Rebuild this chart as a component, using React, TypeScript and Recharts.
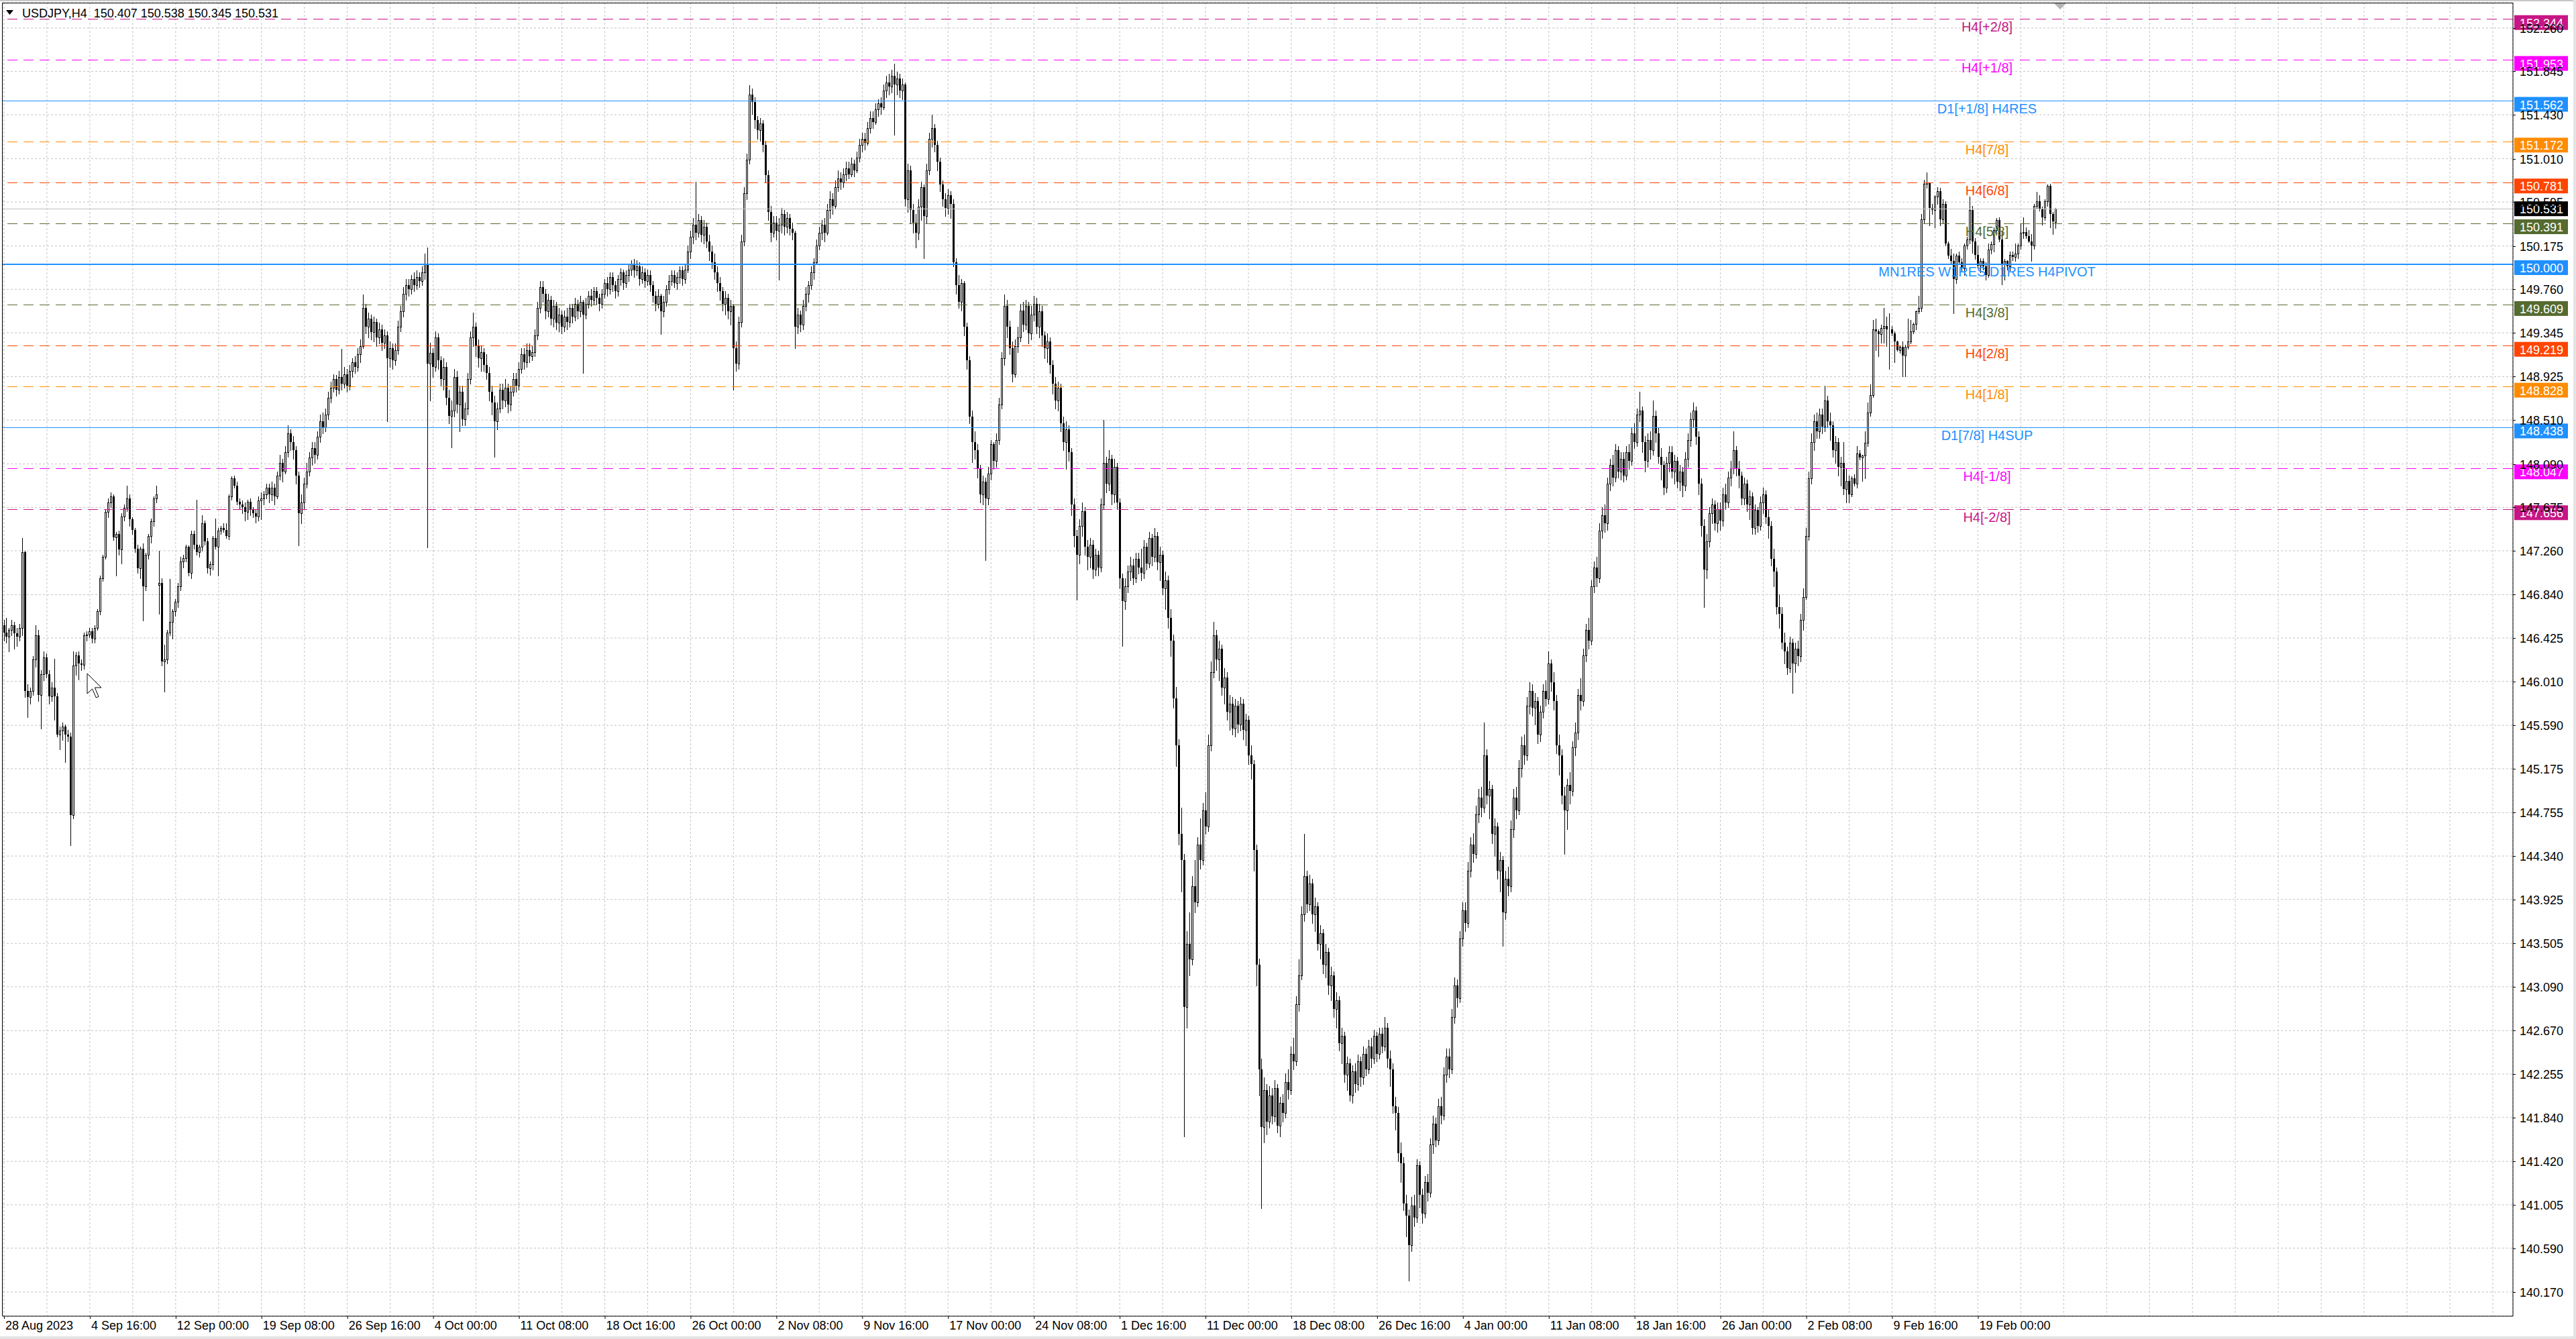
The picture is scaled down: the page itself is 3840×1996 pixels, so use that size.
import React from 'react'
import { ComposedChart, Bar, XAxis, YAxis, CartesianGrid, ReferenceLine } from 'recharts'

// USDJPY H4 candles (28 Aug 2023 .. 23 Feb 2024)
const symbolTitle = 'USDJPY,H4'
const firstOpen = 146.55
// bars whose open does not follow the previous close (weekend gaps)
const gapOpens: [number, number][] = [[58, 146.93], [765, 150.407]]

const closes = [
  146.48, 146.44, 146.50, 146.55, 146.47, 146.44, 146.52, 147.25, 145.92, 145.86, // 0
  145.92, 146.22, 146.45, 145.88, 146.08, 146.24, 146.08, 145.87, 145.95, 145.87,
  145.50, 145.54, 145.58, 145.50, 145.48, 144.73, 146.16, 146.26, 146.18, 146.17,
  146.45, 146.46, 146.49, 146.42, 146.52, 146.68, 147.00, 147.20, 147.63, 147.72,
  147.78, 147.39, 147.42, 147.27, 147.59, 147.67, 147.76, 147.56, 147.46, 147.28,
  147.09, 147.28, 146.92, 147.22, 147.40, 147.54, 147.76, 147.80, 146.95, 146.20, // 50
  146.22, 146.48, 146.58, 146.68, 146.77, 146.92, 147.16, 147.19, 147.30, 147.05,
  147.42, 147.32, 147.25, 147.30, 147.52, 147.35, 147.09, 147.13, 147.38, 147.30,
  147.45, 147.48, 147.46, 147.40, 147.78, 147.95, 147.88, 147.73, 147.70, 147.68,
  147.63, 147.73, 147.65, 147.62, 147.59, 147.74, 147.76, 147.80, 147.86, 147.80,
  147.86, 147.78, 147.98, 148.10, 148.02, 148.20, 148.38, 148.30, 148.22, 147.98, // 100
  147.62, 147.72, 147.90, 148.02, 148.15, 148.24, 148.18, 148.35, 148.50, 148.44,
  148.56, 148.72, 148.82, 148.90, 148.80, 148.92, 148.86, 148.95, 148.84, 148.98,
  149.06, 149.02, 149.14, 149.22, 149.58, 149.40, 149.48, 149.35, 149.45, 149.30,
  149.38, 149.25, 149.32, 149.10, 149.20, 149.08, 149.18, 149.40, 149.55, 149.72,
  149.80, 149.76, 149.86, 149.80, 149.88, 149.84, 149.92, 150.00, 149.05, 149.15, // 150
  149.02, 149.30, 149.08, 148.90, 149.02, 148.72, 148.55, 148.60, 148.92, 148.66,
  148.78, 148.52, 148.62, 148.90, 149.30, 149.40, 149.22, 149.10, 149.16, 149.04,
  148.96, 148.78, 148.68, 148.50, 148.62, 148.80, 148.70, 148.82, 148.66, 148.78,
  148.90, 148.84, 149.00, 149.14, 149.06, 149.18, 149.12, 149.16, 149.32, 149.58,
  149.78, 149.72, 149.55, 149.66, 149.48, 149.60, 149.44, 149.52, 149.40, 149.50, // 200
  149.45, 149.58, 149.50, 149.62, 149.55, 149.64, 149.52, 149.62, 149.70, 149.66,
  149.74, 149.68, 149.62, 149.72, 149.82, 149.76, 149.88, 149.80, 149.74, 149.86,
  149.92, 149.82, 149.90, 149.95, 150.00, 149.94, 149.98, 149.86, 149.92, 149.84,
  149.90, 149.80, 149.70, 149.62, 149.70, 149.55, 149.64, 149.76, 149.84, 149.90,
  149.82, 149.88, 149.94, 149.86, 149.95, 150.12, 150.26, 150.38, 150.30, 150.42, // 250
  150.28, 150.36, 150.22, 150.12, 150.02, 149.92, 149.82, 149.74, 149.62, 149.68,
  149.55, 149.60, 149.20, 149.05, 149.45, 150.22, 150.68, 151.00, 151.62, 151.55,
  151.38, 151.28, 151.35, 151.14, 150.85, 150.50, 150.30, 150.40, 150.32, 150.38,
  150.48, 150.36, 150.44, 150.34, 150.30, 149.40, 149.52, 149.42, 149.60, 149.72,
  149.80, 149.92, 150.02, 150.18, 150.30, 150.38, 150.30, 150.52, 150.62, 150.56, // 300
  150.74, 150.82, 150.78, 150.86, 150.92, 150.86, 150.96, 150.90, 151.02, 151.14,
  151.20, 151.16, 151.30, 151.40, 151.36, 151.48, 151.54, 151.50, 151.66, 151.74,
  151.70, 151.80, 151.72, 151.78, 151.66, 151.72, 150.62, 150.90, 150.52, 150.40,
  150.30, 150.55, 150.74, 150.46, 150.90, 151.20, 151.30, 151.14, 150.98, 150.76,
  150.62, 150.54, 150.66, 150.58, 150.02, 149.80, 149.64, 149.82, 149.40, 149.08, // 350
  148.54, 148.30, 148.22, 148.04, 147.80, 147.92, 147.76, 148.00, 148.28, 148.12,
  148.32, 148.66, 149.10, 149.60, 149.40, 149.20, 148.95, 149.22, 149.30, 149.56,
  149.42, 149.60, 149.34, 149.52, 149.62, 149.40, 149.55, 149.32, 149.20, 149.26,
  149.04, 148.86, 148.70, 148.82, 148.48, 148.30, 148.42, 148.20, 147.70, 147.40,
  147.22, 147.50, 147.64, 147.30, 147.20, 147.32, 147.08, 147.22, 147.10, 147.70, // 400
  148.10, 147.90, 148.14, 147.80, 148.06, 147.72, 147.00, 146.78, 146.92, 147.06,
  147.12, 147.00, 147.18, 147.10, 147.05, 147.30, 147.14, 147.38, 147.20, 147.40,
  147.15, 147.22, 146.90, 146.98, 146.62, 146.40, 145.85, 145.40, 144.55, 144.30,
  142.90, 143.50, 143.35, 144.05, 143.90, 144.45, 144.30, 144.78, 144.62, 145.40,
  146.10, 146.45, 146.22, 146.32, 145.95, 146.05, 145.72, 145.80, 145.56, 145.78, // 450
  145.60, 145.80, 145.55, 145.64, 145.30, 145.22, 144.40, 143.30, 142.30, 141.75,
  142.10, 141.80, 142.05, 141.85, 142.12, 141.76, 141.98, 141.88, 142.18, 142.10,
  142.45, 142.38, 142.92, 143.20, 143.78, 144.15, 143.88, 144.08, 143.78, 143.86,
  143.50, 143.60, 143.30, 143.42, 143.10, 143.20, 142.88, 142.96, 142.55, 142.62,
  142.25, 142.36, 142.05, 142.28, 142.16, 142.38, 142.22, 142.45, 142.30, 142.52, // 500
  142.40, 142.62, 142.45, 142.64, 142.52, 142.70, 142.40, 142.30, 141.95, 141.88,
  141.50, 141.40, 141.02, 140.90, 140.62, 141.00, 140.88, 141.38, 141.10, 140.92,
  141.22, 141.12, 141.58, 141.78, 141.62, 141.95, 141.86, 142.25, 142.42, 142.30,
  142.80, 143.10, 142.98, 143.55, 143.82, 143.70, 144.20, 144.45, 144.36, 144.74,
  144.90, 144.80, 145.30, 144.92, 144.98, 144.55, 144.62, 144.20, 144.30, 143.80, // 550
  144.12, 144.05, 144.60, 144.90, 144.78, 145.18, 145.40, 145.30, 145.78, 145.92,
  145.76, 145.82, 145.50, 145.72, 145.92, 145.84, 146.18, 146.00, 145.82, 145.40,
  145.30, 144.92, 144.78, 145.02, 144.96, 145.38, 145.52, 145.88, 145.82, 146.26,
  146.50, 146.40, 146.92, 147.10, 147.00, 147.45, 147.60, 147.52, 147.90, 148.08,
  147.96, 148.22, 148.02, 148.14, 147.98, 148.20, 148.12, 148.38, 148.30, 148.56, // 600
  148.60, 148.30, 148.12, 148.32, 148.22, 148.55, 148.38, 148.16, 148.08, 147.86,
  148.10, 148.20, 148.02, 148.12, 147.92, 148.02, 147.88, 148.14, 148.32, 148.52,
  148.60, 148.35, 147.90, 147.50, 147.08, 147.35, 147.62, 147.70, 147.52, 147.66,
  147.55, 147.80, 147.72, 147.96, 148.05, 148.22, 148.04, 147.98, 147.76, 147.90,
  147.70, 147.78, 147.48, 147.65, 147.50, 147.72, 147.80, 147.58, 147.50, 147.18, // 650
  147.06, 146.72, 146.66, 146.38, 146.30, 146.14, 146.38, 146.18, 146.32, 146.25,
  146.60, 146.82, 147.40, 147.95, 148.30, 148.50, 148.40, 148.56, 148.45, 148.70,
  148.50, 148.46, 148.22, 148.30, 148.06, 148.10, 147.85, 147.93, 147.80, 147.95,
  147.90, 148.19, 148.15, 148.17, 148.29, 148.58, 148.75, 149.38, 149.36, 149.33,
  149.39, 149.41, 149.38, 149.38, 149.34, 149.26, 149.18, 149.21, 149.13, 149.21, // 700
  149.26, 149.36, 149.43, 149.55, 149.58, 150.43, 150.77, 150.78, 150.54, 150.52,
  150.65, 150.70, 150.43, 150.58, 150.20, 150.08, 150.03, 149.86, 150.08, 150.02,
  149.96, 150.18, 150.24, 150.52, 150.22, 150.09, 149.99, 150.03, 149.98, 149.90,
  150.14, 150.19, 150.33, 150.42, 150.24, 150.00, 150.03, 149.98, 150.09, 150.07,
  150.10, 150.18, 150.30, 150.31, 150.27, 150.22, 150.18, 150.56, 150.60, 150.53, // 750
  150.45, 150.60, 150.75, 150.48, 150.41, 150.531,
]

const highs = [
  146.60, 146.62, 146.52, 146.60, 146.58, 146.52, 146.56, 147.38, 147.26, 145.98, // 0
  145.95, 146.25, 146.55, 146.50, 146.12, 146.30, 146.28, 146.12, 146.00, 146.23,
  145.90, 145.58, 145.62, 145.60, 145.55, 145.52, 146.30, 146.29, 146.30, 146.22,
  146.48, 146.49, 146.52, 146.52, 146.55, 146.70, 147.02, 147.22, 147.65, 147.76,
  147.82, 147.80, 147.44, 147.45, 147.62, 147.70, 147.88, 147.80, 147.58, 147.48,
  147.32, 147.30, 147.33, 147.24, 147.42, 147.57, 147.78, 147.88, 147.26, 147.00, // 50
  146.36, 146.50, 146.99, 146.70, 146.80, 146.95, 147.20, 147.22, 147.32, 147.31,
  147.45, 147.45, 147.75, 147.32, 147.60, 147.55, 147.38, 147.16, 147.40, 147.57,
  147.48, 147.50, 147.52, 147.52, 147.80, 147.97, 147.98, 147.92, 147.76, 147.74,
  147.72, 147.75, 147.76, 147.68, 147.66, 147.78, 147.82, 147.83, 147.90, 147.90,
  147.92, 147.90, 148.02, 148.18, 148.14, 148.26, 148.46, 148.42, 148.36, 148.26, // 100
  148.02, 147.80, 147.96, 148.10, 148.20, 148.30, 148.30, 148.40, 148.56, 148.58,
  148.62, 148.78, 148.88, 148.95, 148.94, 148.98, 149.19, 149.02, 149.00, 149.04,
  149.10, 149.12, 149.20, 149.28, 149.71, 149.62, 149.54, 149.52, 149.50, 149.48,
  149.44, 149.42, 149.38, 149.36, 149.26, 149.24, 149.24, 149.46, 149.60, 149.78,
  149.86, 149.86, 149.90, 149.92, 149.94, 149.92, 149.98, 150.10, 150.16, 149.25, // 150
  149.20, 149.36, 149.34, 149.12, 149.10, 149.06, 148.80, 148.70, 149.00, 148.98,
  148.84, 148.84, 148.68, 148.96, 149.36, 149.54, 149.44, 149.28, 149.22, 149.20,
  149.14, 149.02, 148.84, 148.74, 148.68, 148.86, 148.86, 148.90, 148.86, 148.84,
  148.96, 148.96, 149.06, 149.20, 149.20, 149.24, 149.24, 149.22, 149.38, 149.64,
  149.84, 149.84, 149.76, 149.72, 149.70, 149.66, 149.64, 149.58, 149.56, 149.56, // 200
  149.58, 149.62, 149.62, 149.68, 149.66, 149.70, 149.66, 149.68, 149.74, 149.76,
  149.78, 149.78, 149.72, 149.76, 149.86, 149.88, 149.92, 149.92, 149.84, 149.90,
  149.96, 149.95, 149.94, 150.00, 150.04, 150.05, 150.04, 150.02, 149.98, 149.96,
  149.95, 149.94, 149.84, 149.74, 149.76, 149.72, 149.70, 149.80, 149.90, 149.94,
  149.94, 149.92, 149.98, 149.98, 150.00, 150.18, 150.32, 150.44, 150.79, 150.48, // 250
  150.46, 150.42, 150.40, 150.28, 150.18, 150.10, 149.98, 149.88, 149.78, 149.74,
  149.72, 149.66, 149.62, 149.26, 149.50, 150.28, 150.74, 151.06, 151.71, 151.68,
  151.60, 151.42, 151.40, 151.38, 151.18, 150.90, 150.56, 150.46, 150.46, 150.44,
  150.54, 150.52, 150.50, 150.48, 150.40, 150.32, 149.58, 149.56, 149.66, 149.78,
  149.84, 149.98, 150.06, 150.24, 150.36, 150.42, 150.44, 150.58, 150.70, 150.68, // 300
  150.80, 150.90, 150.88, 150.92, 150.98, 150.98, 151.02, 151.00, 151.08, 151.20,
  151.26, 151.26, 151.36, 151.46, 151.46, 151.54, 151.58, 151.60, 151.72, 151.80,
  151.82, 151.86, 151.92, 151.84, 151.82, 151.78, 151.74, 150.96, 150.94, 150.58,
  150.48, 150.62, 150.79, 150.76, 150.96, 151.26, 151.43, 151.34, 151.18, 151.02,
  150.80, 150.68, 150.72, 150.70, 150.62, 150.06, 149.90, 149.86, 149.84, 149.44, // 350
  149.12, 148.60, 148.40, 148.28, 148.08, 147.98, 147.96, 148.06, 148.32, 148.30,
  148.38, 148.72, 149.16, 149.71, 149.66, 149.46, 149.26, 149.28, 149.40, 149.62,
  149.64, 149.66, 149.64, 149.60, 149.70, 149.68, 149.62, 149.60, 149.36, 149.34,
  149.30, 149.08, 148.92, 148.88, 148.86, 148.54, 148.50, 148.46, 148.24, 147.76,
  147.46, 147.56, 147.72, 147.68, 147.36, 147.38, 147.36, 147.28, 147.26, 147.76, // 400
  148.51, 148.16, 148.22, 148.18, 148.14, 148.10, 147.76, 147.04, 147.00, 147.12,
  147.20, 147.18, 147.24, 147.24, 147.28, 147.36, 147.34, 147.44, 147.42, 147.48,
  147.44, 147.30, 147.26, 147.06, 147.02, 146.70, 146.46, 145.96, 145.46, 144.80,
  144.36, 143.62, 143.80, 144.15, 144.30, 144.52, 144.70, 144.85, 144.95, 145.50,
  146.20, 146.58, 146.50, 146.40, 146.36, 146.14, 146.10, 145.88, 145.86, 145.84, // 450
  145.82, 145.86, 145.84, 145.70, 145.68, 145.40, 145.26, 144.45, 143.36, 142.40,
  142.22, 142.16, 142.14, 142.12, 142.20, 142.16, 142.04, 142.06, 142.26, 142.30,
  142.52, 142.60, 143.00, 143.35, 143.86, 144.55, 144.20, 144.16, 144.12, 143.94,
  143.90, 143.68, 143.64, 143.50, 143.46, 143.28, 143.24, 143.04, 143.00, 142.70,
  142.66, 142.42, 142.40, 142.34, 142.36, 142.44, 142.42, 142.52, 142.50, 142.58, // 500
  142.60, 142.68, 142.66, 142.70, 142.70, 142.80, 142.74, 142.48, 142.36, 142.04,
  141.94, 141.60, 141.46, 141.10, 140.96, 141.08, 141.10, 141.44, 141.42, 141.16,
  141.28, 141.30, 141.64, 141.86, 141.84, 142.02, 142.04, 142.32, 142.50, 142.50,
  142.88, 143.18, 143.16, 143.62, 143.90, 143.90, 144.28, 144.52, 144.56, 144.82,
  144.98, 145.00, 145.62, 145.36, 145.06, 145.02, 144.70, 144.66, 144.38, 144.34, // 550
  144.20, 144.24, 144.68, 144.98, 145.00, 145.26, 145.48, 145.50, 145.86, 146.00,
  145.98, 145.90, 145.86, 145.78, 145.98, 146.02, 146.30, 146.22, 146.10, 145.88,
  145.50, 145.36, 145.00, 145.08, 145.14, 145.44, 145.62, 145.94, 146.04, 146.32,
  146.56, 146.62, 146.98, 147.16, 147.20, 147.52, 147.68, 147.70, 147.96, 148.14,
  148.18, 148.28, 148.26, 148.20, 148.20, 148.26, 148.28, 148.44, 148.48, 148.62, // 600
  148.78, 148.64, 148.36, 148.38, 148.40, 148.70, 148.60, 148.44, 148.24, 148.12,
  148.16, 148.26, 148.26, 148.18, 148.16, 148.08, 148.06, 148.20, 148.38, 148.58,
  148.68, 148.64, 148.40, 147.95, 147.56, 147.42, 147.68, 147.76, 147.74, 147.72,
  147.72, 147.86, 147.90, 148.02, 148.12, 148.40, 148.26, 148.12, 148.02, 147.96,
  147.94, 147.84, 147.82, 147.70, 147.68, 147.78, 147.86, 147.84, 147.66, 147.54, // 650
  147.28, 147.10, 146.84, 146.72, 146.48, 146.34, 146.44, 146.42, 146.38, 146.40,
  146.66, 146.90, 147.48, 148.02, 148.38, 148.56, 148.58, 148.62, 148.62, 148.84,
  148.74, 148.58, 148.50, 148.36, 148.34, 148.16, 148.30, 148.05, 147.98, 147.97,
  147.99, 148.26, 148.22, 148.18, 148.40, 148.68, 148.85, 149.47, 149.48, 149.38,
  149.42, 149.58, 149.50, 149.53, 149.41, 149.36, 149.27, 149.22, 149.26, 149.23, // 700
  149.48, 149.47, 149.44, 149.56, 149.70, 150.48, 150.81, 150.88, 150.78, 150.58,
  150.66, 150.74, 150.73, 150.62, 150.60, 150.22, 150.15, 150.10, 150.10, 150.12,
  150.06, 150.20, 150.26, 150.65, 150.56, 150.25, 150.18, 150.06, 150.06, 150.02,
  150.20, 150.22, 150.35, 150.44, 150.45, 150.32, 150.05, 150.04, 150.12, 150.12,
  150.20, 150.20, 150.39, 150.45, 150.35, 150.33, 150.29, 150.58, 150.69, 150.66, // 750
  150.55, 150.62, 150.76, 150.77, 150.50, 150.538,
]

const lows = [
  146.40, 146.38, 146.30, 146.45, 146.32, 146.35, 146.40, 146.45, 145.86, 145.67, // 0
  145.80, 145.88, 146.15, 145.82, 145.56, 146.02, 146.05, 145.80, 145.82, 145.64,
  145.48, 145.36, 145.45, 145.24, 145.44, 144.44, 144.70, 146.07, 146.03, 146.12,
  146.13, 146.40, 146.43, 146.38, 146.38, 146.50, 146.65, 146.97, 147.18, 147.58,
  147.68, 147.36, 147.02, 147.22, 147.14, 147.55, 147.64, 147.50, 147.42, 147.25,
  147.05, 147.00, 146.59, 146.88, 147.18, 147.34, 147.50, 147.72, 146.66, 146.16, // 50
  145.91, 146.18, 146.45, 146.42, 146.64, 146.72, 146.88, 147.10, 147.16, 147.02,
  147.00, 147.28, 147.22, 147.20, 147.26, 147.32, 147.05, 147.03, 147.08, 147.28,
  147.02, 147.42, 147.44, 147.38, 147.37, 147.75, 147.86, 147.70, 147.66, 147.62,
  147.55, 147.56, 147.60, 147.58, 147.53, 147.55, 147.56, 147.70, 147.76, 147.72,
  147.74, 147.70, 147.76, 147.94, 147.92, 148.00, 148.16, 148.22, 148.14, 147.90, // 100
  147.31, 147.52, 147.66, 147.86, 147.98, 148.08, 148.10, 148.14, 148.30, 148.38,
  148.40, 148.52, 148.68, 148.78, 148.74, 148.76, 148.80, 148.82, 148.78, 148.80,
  148.92, 148.96, 148.98, 149.06, 149.20, 149.34, 149.30, 149.28, 149.26, 149.22,
  149.24, 149.18, 149.20, 148.50, 149.02, 149.00, 149.04, 149.14, 149.36, 149.50,
  149.66, 149.70, 149.72, 149.74, 149.76, 149.78, 149.80, 149.86, 147.29, 148.70, // 150
  148.92, 148.98, 149.00, 148.84, 148.80, 148.66, 148.48, 148.25, 148.54, 148.58,
  148.40, 148.46, 148.46, 148.56, 148.86, 149.22, 149.12, 149.02, 148.98, 148.98,
  148.90, 148.70, 148.56, 148.16, 148.42, 148.58, 148.62, 148.64, 148.58, 148.60,
  148.74, 148.78, 148.80, 148.96, 149.00, 149.02, 149.06, 149.08, 149.12, 149.28,
  149.54, 149.64, 149.48, 149.50, 149.42, 149.40, 149.38, 149.36, 149.34, 149.36, // 200
  149.38, 149.40, 149.44, 149.46, 149.48, 149.50, 148.96, 149.48, 149.58, 149.60,
  149.62, 149.62, 149.56, 149.58, 149.68, 149.70, 149.72, 149.74, 149.68, 149.70,
  149.80, 149.76, 149.78, 149.84, 149.90, 149.88, 149.90, 149.80, 149.82, 149.78,
  149.80, 149.74, 149.64, 149.56, 149.58, 149.33, 149.50, 149.60, 149.72, 149.80,
  149.78, 149.76, 149.82, 149.80, 149.82, 149.92, 150.06, 150.20, 150.24, 150.26, // 250
  150.22, 150.20, 150.16, 150.04, 149.96, 149.86, 149.74, 149.66, 149.56, 149.52,
  149.48, 149.42, 148.80, 148.98, 149.00, 149.40, 150.18, 150.62, 150.96, 151.44,
  151.30, 151.20, 151.18, 151.08, 150.78, 150.42, 150.22, 150.26, 150.24, 149.85,
  150.30, 150.28, 150.30, 150.28, 150.24, 149.20, 149.34, 149.36, 149.38, 149.56,
  149.64, 149.76, 149.86, 150.00, 150.14, 150.24, 150.22, 150.28, 150.44, 150.48, // 300
  150.54, 150.70, 150.72, 150.74, 150.80, 150.82, 150.84, 150.84, 150.88, 150.98,
  151.08, 151.10, 151.14, 151.26, 151.30, 151.34, 151.42, 151.44, 151.48, 151.60,
  151.62, 151.64, 151.24, 151.62, 151.60, 151.58, 150.56, 150.50, 150.40, 150.30,
  150.16, 150.24, 150.42, 150.06, 150.40, 150.86, 151.12, 151.08, 150.90, 150.70,
  150.56, 150.46, 150.48, 150.44, 149.98, 149.72, 149.58, 149.56, 149.32, 149.00, // 350
  148.48, 148.11, 148.14, 147.96, 147.72, 147.70, 147.17, 147.70, 147.94, 148.04,
  148.06, 148.28, 148.62, 149.04, 149.30, 149.14, 148.88, 148.92, 149.16, 149.26,
  149.36, 149.38, 149.24, 149.28, 149.46, 149.34, 149.30, 149.22, 149.10, 149.06,
  148.96, 148.76, 148.62, 148.60, 148.40, 148.22, 148.04, 148.12, 147.60, 147.30,
  146.79, 147.14, 147.40, 147.22, 147.08, 147.10, 147.00, 147.02, 147.02, 147.06, // 400
  147.66, 147.82, 147.84, 147.70, 147.72, 147.66, 146.90, 146.35, 146.70, 146.86,
  146.98, 146.94, 146.96, 147.04, 146.98, 147.00, 147.08, 147.10, 147.12, 147.16,
  147.08, 146.98, 146.84, 146.70, 146.52, 146.25, 145.76, 145.20, 144.45, 144.00,
  141.66, 142.70, 143.20, 143.30, 143.80, 143.86, 144.22, 144.26, 144.55, 144.58,
  145.35, 146.05, 146.12, 146.02, 145.88, 145.80, 145.64, 145.55, 145.50, 145.48, // 450
  145.52, 145.54, 145.46, 145.40, 145.22, 145.08, 144.20, 143.10, 142.05, 140.97,
  141.60, 141.68, 141.74, 141.78, 141.80, 141.70, 141.66, 141.80, 141.84, 142.02,
  142.06, 142.30, 142.34, 142.86, 143.16, 143.72, 143.80, 143.82, 143.70, 143.62,
  143.44, 143.36, 143.22, 143.18, 143.02, 142.96, 142.80, 142.70, 142.48, 142.36,
  142.18, 142.10, 142.00, 141.98, 142.08, 142.10, 142.14, 142.16, 142.24, 142.26, // 500
  142.32, 142.36, 142.38, 142.40, 142.46, 142.48, 142.32, 142.14, 141.88, 141.72,
  141.42, 141.22, 140.95, 140.70, 140.28, 140.56, 140.80, 140.84, 140.98, 140.83,
  140.88, 141.04, 141.08, 141.50, 141.56, 141.58, 141.78, 141.82, 142.18, 142.22,
  142.26, 142.74, 142.90, 142.94, 143.48, 143.62, 143.66, 144.14, 144.28, 144.32,
  144.66, 144.72, 144.76, 144.84, 144.70, 144.46, 144.34, 144.12, 144.00, 143.48, // 550
  143.74, 143.96, 144.00, 144.52, 144.70, 144.74, 145.10, 145.22, 145.26, 145.70,
  145.68, 145.60, 145.42, 145.44, 145.66, 145.78, 145.80, 145.92, 145.74, 145.32,
  145.12, 144.84, 144.36, 144.60, 144.84, 144.92, 145.30, 145.46, 145.74, 145.78,
  146.20, 146.32, 146.36, 146.86, 146.92, 146.96, 147.38, 147.44, 147.46, 147.84,
  147.88, 147.92, 147.96, 147.94, 147.92, 147.94, 148.04, 148.08, 148.24, 148.26, // 600
  148.50, 148.20, 148.02, 148.06, 148.14, 148.18, 148.30, 148.10, 147.94, 147.80,
  147.82, 148.02, 147.96, 147.90, 147.86, 147.84, 147.78, 147.84, 148.06, 148.26,
  148.44, 148.28, 147.80, 147.40, 146.72, 147.00, 147.30, 147.52, 147.46, 147.44,
  147.46, 147.50, 147.66, 147.68, 147.88, 148.00, 147.98, 147.86, 147.70, 147.70,
  147.64, 147.56, 147.42, 147.42, 147.44, 147.46, 147.62, 147.52, 147.38, 147.12, // 650
  146.92, 146.66, 146.52, 146.32, 146.18, 146.08, 146.10, 145.90, 146.10, 146.16,
  146.20, 146.50, 146.80, 147.36, 147.90, 148.22, 148.34, 148.34, 148.38, 148.40,
  148.44, 148.32, 148.16, 148.10, 147.98, 147.88, 147.80, 147.72, 147.72, 147.78,
  147.88, 147.86, 148.13, 147.93, 147.95, 148.26, 148.55, 148.73, 149.18, 149.12,
  149.25, 149.25, 149.22, 149.00, 149.32, 149.06, 149.17, 149.15, 148.93, 148.93, // 700
  149.19, 149.24, 149.34, 149.38, 149.53, 149.55, 150.40, 150.73, 150.37, 150.48,
  150.35, 150.58, 150.37, 150.40, 150.18, 150.06, 150.00, 149.53, 149.82, 150.00,
  149.93, 149.90, 150.15, 150.20, 150.11, 150.05, 149.97, 149.92, 149.95, 149.85,
  149.88, 150.10, 150.12, 150.28, 150.22, 149.81, 149.85, 149.95, 149.94, 150.04,
  150.03, 150.06, 150.15, 150.25, 150.25, 150.21, 150.03, 150.15, 150.54, 150.51, // 750
  150.38, 150.42, 150.56, 150.35, 150.29, 150.345,
]

// one time label every 32 bars
const timeLabels = [
  '28 Aug 2023', '4 Sep 16:00', '12 Sep 00:00', '19 Sep 08:00', '26 Sep 16:00', '4 Oct 00:00',
  '11 Oct 08:00', '18 Oct 16:00', '26 Oct 00:00', '2 Nov 08:00', '9 Nov 16:00', '17 Nov 00:00',
  '24 Nov 08:00', '1 Dec 16:00', '11 Dec 00:00', '18 Dec 08:00', '26 Dec 16:00', '4 Jan 00:00',
  '11 Jan 08:00', '18 Jan 16:00', '26 Jan 00:00', '2 Feb 08:00', '9 Feb 16:00', '19 Feb 00:00',
]

const priceTicks = [
  152.26, 151.845, 151.43, 151.01, 150.595, 150.175, 149.76, 149.345, 148.925, 148.51,
  148.09, 147.675, 147.26, 146.84, 146.425, 146.01, 145.59, 145.175, 144.755, 144.34,
  143.925, 143.505, 143.09, 142.67, 142.255, 141.84, 141.42, 141.005, 140.59, 140.17,
]

// murrey math levels drawn by the indicator
const levelPrices = [
  152.344, 151.953, 151.562, 151.172, 150.781, 150.391, 150.0,
  149.609, 149.219, 148.828, 148.438, 148.047, 147.656,
]
const levelNames = [
  'H4[+2/8]', 'H4[+1/8]', 'D1[+1/8] H4RES', 'H4[7/8]', 'H4[6/8]', 'H4[5/8]', 'MN1RES W1RES D1RES H4PIVOT',
  'H4[3/8]', 'H4[2/8]', 'H4[1/8]', 'D1[7/8] H4SUP', 'H4[-1/8]', 'H4[-2/8]',
]

const levelStyles = [
  { color: '#C71585', dash: true, width: 1 },
  { color: '#FF00FF', dash: true, width: 1 },
  { color: '#1E90FF', dash: false, width: 1 },
  { color: '#FF8C00', dash: true, width: 1 },
  { color: '#FF4500', dash: true, width: 1 },
  { color: '#556B2F', dash: true, width: 1 },
  { color: '#1E90FF', dash: false, width: 2 },
  { color: '#556B2F', dash: true, width: 1 },
  { color: '#FF4500', dash: true, width: 1 },
  { color: '#FF8C00', dash: true, width: 1 },
  { color: '#1E90FF', dash: false, width: 1 },
  { color: '#FF00FF', dash: true, width: 1 },
  { color: '#C71585', dash: true, width: 1 },
]

const FONT = '"Liberation Sans", Arial, sans-serif'
const SLOTS = 936 // bars that fit the window, incl. the empty chart shift on the right
const BARS_PER_LABEL = 32
const BARS_PER_GRID = 16
const Y_DOMAIN: [number, number] = [139.939, 152.502]
const LEVEL_TEXT_X = 2962

const opens = closes.map((_, i) => {
  const gap = gapOpens.find(([k]) => k === i)
  if (gap) return gap[1]
  return i === 0 ? firstOpen : closes[i - 1]
})
const last = closes.length - 1
const currentPrice = closes[last]

const data = Array.from({ length: SLOTS }, (_, i) =>
  i < closes.length
    ? { i, o: opens[i], h: highs[i], l: lows[i], c: closes[i], range: [lows[i], highs[i]] }
    : { i, range: null },
)
const gridTicks = Array.from({ length: Math.ceil(SLOTS / BARS_PER_GRID) }, (_, k) => k * BARS_PER_GRID)

function Candle(props: any) {
  const { x, y, width, height, payload } = props
  if (!payload || payload.h == null || x == null) return null
  const top = Math.min(y, y + height)
  const span = Math.abs(height)
  const range = payload.h - payload.l
  const toY = (v: number) => (range > 0 ? top + ((payload.h - v) / range) * span : top)
  const cx = Math.round(x + width / 2)
  const oy = toY(payload.o)
  const cy = toY(payload.c)
  const bodyTop = Math.round(Math.min(oy, cy))
  const bodyBottom = Math.round(Math.max(oy, cy))
  const bull = payload.c >= payload.o
  return (
    <g shapeRendering="crispEdges">
      <line x1={cx + 0.5} x2={cx + 0.5} y1={Math.round(top)} y2={Math.round(top + span) + 1} stroke="#000" />
      {bull ? (
        <rect x={cx - 0.5} y={bodyTop + 0.5} width={2} height={bodyBottom - bodyTop} fill="#fff" stroke="#000" />
      ) : (
        <rect x={cx - 1} y={bodyTop} width={3} height={Math.max(bodyBottom - bodyTop, 1)} fill="#000" />
      )}
    </g>
  )
}

function TimeTick({ x, y, payload }: any) {
  const idx = Number(payload.value)
  const label = idx % BARS_PER_LABEL === 0 ? timeLabels[idx / BARS_PER_LABEL] : undefined
  if (!label) return <g />
  return (
    <g>
      <line x1={x + 0.5} x2={x + 0.5} y1={y} y2={y + 4} stroke="#000" />
      <text x={x + 2} y={y + 19.5} fontSize={18} fill="#000" fontFamily={FONT}>
        {label}
      </text>
    </g>
  )
}

function PriceTick({ x, y, payload }: any) {
  return (
    <g>
      <line x1={x} x2={x + 4} y1={Math.round(y) + 0.5} y2={Math.round(y) + 0.5} stroke="#000" />
      <text x={x + 10} y={y + 7} fontSize={18} fill="#000" fontFamily={FONT}>
        {Number(payload.value).toFixed(3)}
      </text>
    </g>
  )
}

function levelLabel(name: string, price: number, color: string, isQuote = false) {
  return (props: any) => {
    const vb = props.viewBox || {}
    const y = vb.y
    const right = vb.x + vb.width
    const boxTop = isQuote ? y - 11 : y - 6
    return (
      <g fontFamily={FONT}>
        {name ? (
          <text x={LEVEL_TEXT_X} y={y + 18.5} textAnchor="middle" fontSize={20} fill={color}>
            {name}
          </text>
        ) : null}
        <rect x={right + 2} y={boxTop} width={80} height={22} fill={color} />
        <text x={right + 10} y={boxTop + 18} fontSize={18} fill="#fff">
          {price.toFixed(3)}
        </text>
      </g>
    )
  }
}

export default function App() {
  const quote = [opens[last], highs[last], lows[last], closes[last]].map((v) => v.toFixed(3)).join(' ')
  return (
    <div
      style={{
        position: 'absolute',
        left: 0,
        top: 0,
        width: 3840,
        height: 1996,
        background: '#fff',
        overflow: 'hidden',
        fontFamily: FONT,
      }}
    >
      {/* window frame */}
      <div style={{ position: 'absolute', left: 0, top: 0, width: 3840, height: 2, background: '#c8c8c8' }} />
      <div style={{ position: 'absolute', left: 0, top: 1992, width: 3840, height: 4, background: '#e4e4e4' }} />
      <div style={{ position: 'absolute', left: 3836, top: 0, width: 4, height: 1996, background: '#e4e4e4' }} />

      <ComposedChart
        width={3840}
        height={1996}
        data={data}
        margin={{ top: 4, right: 0, left: 4, bottom: 0 }}
        barCategoryGap={0}
      >
        <CartesianGrid stroke="#c4c4c4" strokeDasharray="3 3" />
        <XAxis
          dataKey="i"
          type="category"
          ticks={gridTicks}
          interval={0}
          tick={<TimeTick />}
          tickLine={false}
          tickSize={0}
          tickMargin={0}
          height={34}
          axisLine={{ stroke: '#000' }}
        />
        <YAxis
          orientation="right"
          type="number"
          domain={Y_DOMAIN}
          allowDataOverflow
          ticks={priceTicks}
          interval={0}
          tick={<PriceTick />}
          tickLine={false}
          tickSize={0}
          tickMargin={0}
          width={94}
          axisLine={{ stroke: '#000' }}
        />
        <Bar dataKey="range" barSize={3} isAnimationActive={false} shape={(p: any) => <Candle {...p} />} />
        <ReferenceLine
          y={currentPrice}
          stroke="#c0c0c0"
          shapeRendering="crispEdges"
          label={levelLabel('', currentPrice, '#000', true)}
        />
        {levelPrices.map((p, k) => (
          <ReferenceLine
            key={p}
            y={p}
            stroke={levelStyles[k].color}
            strokeWidth={levelStyles[k].width}
            strokeDasharray={levelStyles[k].dash ? '15 9' : undefined}
            shapeRendering="crispEdges"
            label={levelLabel(levelNames[k], p, levelStyles[k].color)}
          />
        ))}
      </ComposedChart>

      {/* plot frame: left and top edges */}
      <div style={{ position: 'absolute', left: 3, top: 4, width: 1, height: 1958, background: '#000' }} />
      <div style={{ position: 'absolute', left: 3, top: 4, width: 3743, height: 1, background: '#000' }} />

      {/* chart shift marker */}
      <svg style={{ position: 'absolute', left: 3062, top: 5 }} width={20} height={11}>
        <polygon points="0,0 18,0 9,9" fill="#b4b4b4" />
      </svg>

      {/* mouse pointer left on the chart */}
      <svg style={{ position: 'absolute', left: 129, top: 1003 }} width={26} height={40}>
        <polygon
          points="1,1 1,31 8.6,24 14.3,37 18,35.4 12.4,22 22,22"
          fill="#fff"
          stroke="#000"
          strokeWidth={1}
        />
      </svg>

      {/* symbol header */}
      <svg style={{ position: 'absolute', left: 9, top: 15 }} width={14} height={9}>
        <polygon points="0,0 11,0 5.5,7" fill="#000" />
      </svg>
      <div
        style={{
          position: 'absolute',
          left: 33,
          top: 11,
          fontSize: 18,
          lineHeight: '18px',
          whiteSpace: 'pre',
          color: '#000',
        }}
      >
        {`${symbolTitle}  ${quote}`}
      </div>
    </div>
  )
}
